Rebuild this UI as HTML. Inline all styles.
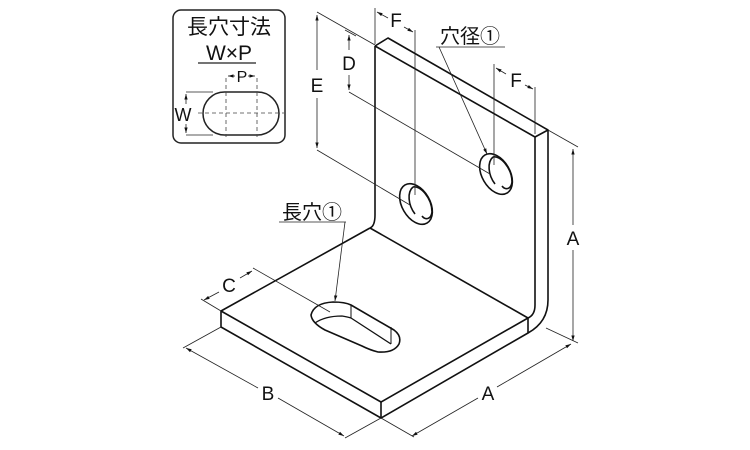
<!DOCTYPE html>
<html><head><meta charset="utf-8"><style>
html,body{margin:0;padding:0;background:#fff}
svg{display:block}
text{font-family:"Liberation Sans","Noto Sans CJK JP",sans-serif;fill:#111}
</style></head><body>
<svg width="750" height="450" viewBox="0 0 750 450" xmlns="http://www.w3.org/2000/svg">
<defs><marker id="ar" viewBox="0 0 10 10" refX="10" refY="5" markerWidth="7" markerHeight="7" orient="auto-start-reverse"><path d="M0,2 L10,5 L0,8z" fill="#111"/></marker></defs>
<!-- inset -->
<rect x="173" y="10" width="112" height="133" rx="8" fill="none" stroke="#222" stroke-width="1.5"/>
<text x="229" y="34" font-size="21" text-anchor="middle">長穴寸法</text>
<text x="229" y="60" font-size="21" text-anchor="middle">W×P</text>
<line x1="198" y1="63" x2="256" y2="63" stroke="#222" stroke-width="1.2"/>
<rect x="203" y="92" width="76" height="43" rx="21.5" fill="none" stroke="#222" stroke-width="1.5"/>
<g stroke="#444" stroke-width="0.8" stroke-dasharray="4,3" fill="none">
<line x1="226" y1="78" x2="226" y2="137"/><line x1="257" y1="78" x2="257" y2="137"/>
<line x1="198" y1="113" x2="284" y2="113"/></g>
<g stroke="#222" stroke-width="0.8" fill="none">
<line x1="186" y1="92" x2="213" y2="92"/><line x1="186" y1="135" x2="213" y2="135"/>
<line x1="186" y1="94" x2="186" y2="104" marker-start="url(#ar)"/><line x1="186" y1="124" x2="186" y2="133" marker-end="url(#ar)"/>
<line x1="228" y1="76" x2="235" y2="76" marker-start="url(#ar)"/><line x1="248" y1="76" x2="255" y2="76" marker-end="url(#ar)"/></g>
<text x="242" y="82" font-size="16" text-anchor="middle">P</text>
<text x="183" y="121" font-size="18" text-anchor="middle">W</text>

<!-- bracket -->
<g stroke="#111" stroke-width="1.6" fill="none" stroke-linejoin="round">
<path d="M221,311 L370,228"/>
<path d="M221,311 L221,327 L381,418 L528,333 L528,318"/>
<path d="M221,311 L381,402 L528,318"/>
<line x1="381" y1="402" x2="381" y2="418"/>
<path d="M370,228 L528,318"/>
<path d="M375,46 L375,215 Q375,226 370,228"/>
<path d="M375,46 L388,38 L548,130 L548,300 Q548,322 528,333"/>
<path d="M375,46 L535,137 L535,305 Q535,315 528,318"/>
<line x1="535" y1="137" x2="548" y2="130"/>
<!-- holes -->
<ellipse cx="416" cy="204" rx="14" ry="22" transform="rotate(-30 416 204)"/>
<path d="M413,187 C420,185 432,198 432,212 C431,220 425,220 422,216" />
<path d="M413,187 C407,192 408,205 415,214"/>
<ellipse cx="496" cy="174" rx="14" ry="22" transform="rotate(-30 496 174)"/>
<path d="M493,157 C500,155 512,168 512,182 C511,190 505,190 502,186"/>
<path d="M493,157 C487,162 488,175 495,184"/>
<!-- slot -->
<path d="M333,302 Q345,302 351,305 L394,330 Q402,336 399,344 Q394,353 378,352 Q370,350 362,346 L325,330 Q312,323 311,315 Q314,303 333,302 Z"/>
<path d="M315,323 Q325,316 342,316 Q348,317 351,318 L391,344" stroke-width="1.3"/>
<line x1="351" y1="305" x2="351" y2="318" stroke-width="1"/>
<line x1="391" y1="327" x2="391" y2="344" stroke-width="1"/>
</g>
<!-- dimensions -->
<g stroke="#222" stroke-width="0.8" fill="none">
<line x1="375" y1="8" x2="375" y2="44"/><line x1="415" y1="30" x2="415" y2="195"/>
<line x1="377" y1="12" x2="388" y2="18" marker-start="url(#ar)"/><line x1="404" y1="27" x2="413" y2="32" marker-end="url(#ar)"/>
<line x1="494" y1="64" x2="494" y2="165"/><line x1="535" y1="87" x2="535" y2="134"/>
<line x1="496" y1="68" x2="506" y2="74" marker-start="url(#ar)"/><line x1="525" y1="85" x2="533" y2="89" marker-end="url(#ar)"/>
<line x1="317" y1="12" x2="375" y2="45"/><line x1="317" y1="150" x2="410" y2="205"/>
<line x1="317" y1="15" x2="317" y2="70" marker-start="url(#ar)"/><line x1="317" y1="98" x2="317" y2="148" marker-end="url(#ar)"/>
<line x1="345" y1="30" x2="356" y2="36"/><line x1="349" y1="92" x2="490" y2="174"/>
<line x1="349" y1="35" x2="349" y2="50" marker-start="url(#ar)"/><line x1="349" y1="75" x2="349" y2="90" marker-end="url(#ar)"/>
<line x1="548" y1="130" x2="578" y2="147"/><line x1="546" y1="328" x2="578" y2="343"/>
<line x1="573" y1="149" x2="573" y2="225" marker-start="url(#ar)"/><line x1="573" y1="250" x2="573" y2="341" marker-end="url(#ar)"/>
<line x1="381" y1="418" x2="414" y2="437"/>
<line x1="412" y1="436" x2="478" y2="398" marker-start="url(#ar)"/><line x1="497" y1="387" x2="571" y2="344" marker-end="url(#ar)"/>
<line x1="221" y1="327" x2="183" y2="348"/><line x1="381" y1="418" x2="345" y2="438"/>
<line x1="186" y1="348" x2="258" y2="388" marker-start="url(#ar)"/><line x1="278" y1="398" x2="344" y2="436" marker-end="url(#ar)"/>
<line x1="221" y1="311" x2="201" y2="299"/><line x1="253" y1="268" x2="330" y2="312"/>
<line x1="204" y1="300" x2="219" y2="292" marker-start="url(#ar)"/><line x1="240" y1="278" x2="252" y2="271" marker-end="url(#ar)"/>
<line x1="436" y1="47" x2="505" y2="47"/><line x1="439" y1="47" x2="487" y2="154" marker-end="url(#ar)"/>
<line x1="279" y1="222" x2="346" y2="222"/><line x1="345" y1="222" x2="335" y2="301" marker-end="url(#ar)"/>
</g>
<g font-size="19" text-anchor="middle">
<text x="396" y="27">F</text><text x="516" y="87">F</text>
<text x="317" y="92">E</text><text x="349" y="70">D</text>
<text x="573" y="245">A</text><text x="488" y="400">A</text>
<text x="268" y="400">B</text><text x="229" y="292">C</text>
</g>
<text x="470" y="43" font-size="20" text-anchor="middle">穴径①</text>
<text x="312" y="219" font-size="20" text-anchor="middle">長穴①</text>
</svg>
</body></html>
